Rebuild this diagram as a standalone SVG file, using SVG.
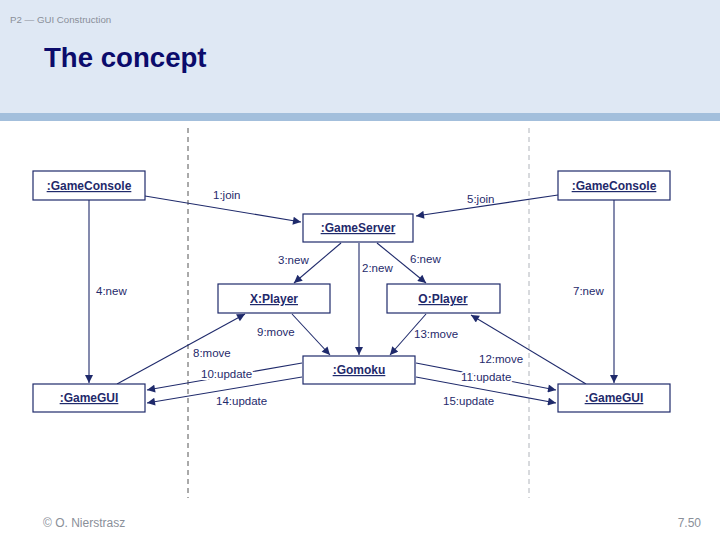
<svg xmlns="http://www.w3.org/2000/svg" width="720" height="540" viewBox="0 0 720 540">
<style>
.node rect{fill:#fff;stroke:#1f2a6b;stroke-width:1.2}
.node text{font-family:"Liberation Sans",Arial,sans-serif;font-size:12px;font-weight:bold;fill:#1f2a6b;text-anchor:middle;text-decoration:underline}
.conn line{stroke:#1f2a6b;stroke-width:1.1;marker-end:url(#ah)}
.lbl{font-family:"Liberation Sans",Arial,sans-serif;font-size:11.5px;fill:#1f2a6b}
.halo{stroke:#fff;stroke-width:4;paint-order:stroke;stroke-linejoin:round}
</style>
<defs>
<marker id="ah" viewBox="0 0 10 10" refX="10" refY="5" markerWidth="10" markerHeight="8" markerUnits="userSpaceOnUse" orient="auto">
<path d="M0,0 L10,5 L0,10 z" fill="#1f2a6b"/>
</marker>
</defs>
<rect x="0" y="0" width="720" height="540" fill="#fff"/>
<rect x="0" y="0" width="720" height="113" fill="#dfe8f4"/>
<rect x="0" y="113" width="720" height="8" fill="#a3bfdc"/>
<text x="10" y="23" font-family="Liberation Sans,Arial,sans-serif" font-size="9.7" fill="#8a8f99">P2 — GUI Construction</text>
<text x="44" y="67" font-family="Liberation Sans,Arial,sans-serif" font-size="27.6" font-weight="bold" fill="#0b0b6b">The concept</text>
<g id="swimlanes">
<line x1="188" y1="128" x2="188" y2="498" stroke="#555" stroke-width="1" stroke-dasharray="5,4"/>
<line x1="529" y1="128" x2="529" y2="498" stroke="#b0b4bb" stroke-width="1" stroke-dasharray="5,4"/>
</g>
<g id="connectors" class="conn">
<line x1="145" y1="196" x2="301" y2="222"/>
<line x1="558" y1="195" x2="416" y2="216"/>
<line x1="341" y1="243" x2="294" y2="283"/>
<line x1="359" y1="243" x2="359" y2="355"/>
<line x1="377" y1="243" x2="426" y2="283"/>
<line x1="89" y1="200" x2="89" y2="383"/>
<line x1="614" y1="200" x2="614" y2="383"/>
<line x1="292" y1="314" x2="330" y2="355"/>
<line x1="426" y1="314" x2="390" y2="355"/>
<line x1="117" y1="384" x2="245" y2="314"/>
<line x1="586" y1="384" x2="471" y2="315"/>
<line x1="302" y1="363" x2="147" y2="390"/>
<line x1="302" y1="377" x2="147" y2="403"/>
<line x1="416" y1="363" x2="556" y2="390"/>
<line x1="416" y1="377" x2="556" y2="403"/>
</g>
<g id="labels" class="lbl">
<text class="lbl" x="213" y="199">1:join</text>
<text class="lbl" x="467" y="203">5:join</text>
<text class="lbl" x="278" y="264">3:new</text>
<text class="lbl halo" x="362" y="272">2:new</text>
<text class="lbl" x="410" y="263">6:new</text>
<text class="lbl" x="96" y="295">4:new</text>
<text class="lbl" x="573" y="295">7:new</text>
<text class="lbl" x="257" y="336">9:move</text>
<text class="lbl" x="414" y="338">13:move</text>
<text class="lbl halo" x="193" y="357">8:move</text>
<text class="lbl halo" x="479" y="363">12:move</text>
<text class="lbl halo" x="201" y="378">10:update</text>
<text class="lbl" x="216" y="405">14:update</text>
<text class="lbl halo" x="461" y="381">11:update</text>
<text class="lbl" x="443" y="405">15:update</text>
</g>
<g id="gameconsole-left" class="node"><rect x="33" y="171" width="112" height="29"/><text x="89" y="190">:GameConsole</text></g>
<g id="gameconsole-right" class="node"><rect x="558" y="171" width="112" height="29"/><text x="614" y="190">:GameConsole</text></g>
<g id="gameserver" class="node"><rect x="303" y="214" width="110" height="28"/><text x="358" y="232">:GameServer</text></g>
<g id="xplayer" class="node"><rect x="218" y="284" width="112" height="29"/><text x="274" y="303">X:Player</text></g>
<g id="oplayer" class="node"><rect x="387" y="284" width="113" height="29"/><text x="443" y="303">O:Player</text></g>
<g id="gomoku" class="node"><rect x="303" y="356" width="112" height="28"/><text x="359" y="374">:Gomoku</text></g>
<g id="gamegui-left" class="node"><rect x="33" y="384" width="112" height="28"/><text x="89" y="402">:GameGUI</text></g>
<g id="gamegui-right" class="node"><rect x="558" y="384" width="112" height="28"/><text x="614" y="402">:GameGUI</text></g>
<text x="43" y="527" font-family="Liberation Sans,Arial,sans-serif" font-size="12" fill="#8a8f99">© O. Nierstrasz</text>
<text x="701" y="527" font-family="Liberation Sans,Arial,sans-serif" font-size="12" fill="#8a8f99" text-anchor="end">7.50</text>
</svg>
